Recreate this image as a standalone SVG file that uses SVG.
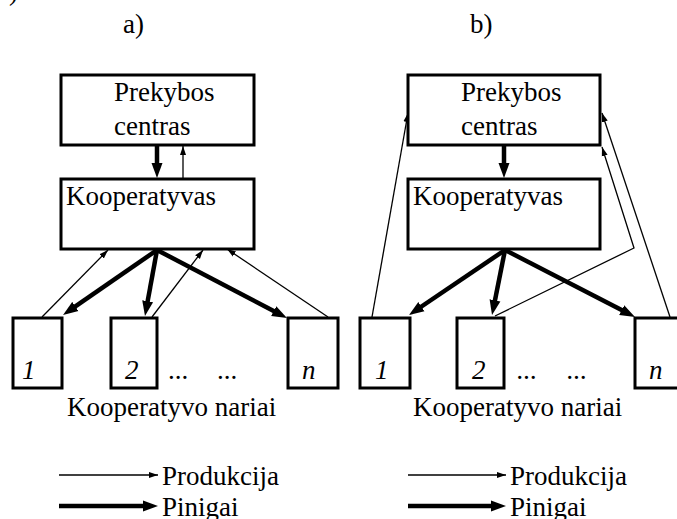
<svg xmlns="http://www.w3.org/2000/svg" width="677" height="519" viewBox="0 0 677 519">
<defs>
<marker id="thin" markerUnits="userSpaceOnUse" markerWidth="9" markerHeight="8" refX="9" refY="4" orient="auto"><path d="M0,1 L9,4 L0,7 z" fill="#000"/></marker>
<marker id="thick" markerUnits="userSpaceOnUse" markerWidth="15" markerHeight="12" refX="7" refY="6" orient="auto"><path d="M0,0.5 L15,6 L0,11.5 z" fill="#000"/></marker>
<style>
text{font-family:'Liberation Serif','Times New Roman','DejaVu Serif',serif;font-size:27px;fill:#000}
.i{font-style:italic}
.box{fill:#fff;stroke:#000;stroke-width:3}
.pl{fill:none;stroke:#000;stroke-width:1.3;marker-end:url(#thin)}
.mn{fill:none;stroke:#000;stroke-width:4.5;marker-end:url(#thick)}
</style>
</defs>
<rect width="677" height="519" fill="#fff"/>
<text x="9" y="0">)</text>
<text x="123" y="33">a)</text>
<text x="470" y="33">b)</text>

<g id="connectors">
<line class="mn" x1="157" y1="146" x2="157" y2="170"/>
<line class="pl" x1="183" y1="179" x2="183" y2="146"/>
<line class="mn" x1="157" y1="250" x2="69.6" y2="310.4"/>
<line class="mn" x1="157" y1="250" x2="146.4" y2="308.1"/>
<line class="mn" x1="157" y1="250" x2="279.9" y2="314.3"/>
<line class="pl" x1="42" y1="317" x2="108" y2="250"/>
<line class="pl" x1="152" y1="317" x2="203" y2="250"/>
<line class="pl" x1="328" y1="317" x2="227" y2="249"/>
<line class="mn" x1="504" y1="146" x2="504" y2="170"/>
<line class="mn" x1="505" y1="250" x2="415.6" y2="310.5"/>
<line class="mn" x1="505" y1="250" x2="493.6" y2="307.2"/>
<line class="mn" x1="505" y1="250" x2="627.9" y2="313.3"/>
<line class="pl" x1="372" y1="317" x2="408" y2="113"/>
<line class="pl" x1="670" y1="317" x2="602" y2="113"/>
<polyline class="pl" points="495,316 634,248 602,147"/>
<line class="pl" x1="59" y1="475" x2="158" y2="475"/>
<line class="mn" x1="59" y1="506" x2="150" y2="506"/>
<line class="pl" x1="408" y1="475" x2="506" y2="475"/>
<line class="mn" x1="408" y1="506" x2="498" y2="506"/>
</g>

<g id="a-prekybos"><rect class="box" x="61" y="75" width="193" height="70"/><text x="114" y="101">Prekybos</text><text x="114" y="135">centras</text></g>
<g id="a-kooperatyvas"><rect class="box" x="61" y="179" width="193" height="70"/><text x="66" y="205">Kooperatyvas</text></g>
<g id="a-m1"><rect class="box" x="13" y="318" width="49" height="70"/><text class="i" x="22" y="379">1</text></g>
<g id="a-m2"><rect class="box" x="111" y="318" width="46" height="70"/><text class="i" x="125" y="379">2</text></g>
<g id="a-dots"><text x="168" y="379">...</text><text x="217" y="379">...</text></g>
<g id="a-mn"><rect class="box" x="288" y="318" width="50" height="70"/><text class="i" x="302" y="379">n</text></g>
<g id="a-label"><text x="67" y="416">Kooperatyvo nariai</text></g>

<g id="b-prekybos"><rect class="box" x="408" y="75" width="192" height="70"/><text x="461" y="101">Prekybos</text><text x="461" y="135">centras</text></g>
<g id="b-kooperatyvas"><rect class="box" x="408" y="179" width="192" height="70"/><text x="413" y="205">Kooperatyvas</text></g>
<g id="b-m1"><rect class="box" x="360" y="318" width="50" height="70"/><text class="i" x="375" y="379">1</text></g>
<g id="b-m2"><rect class="box" x="457" y="318" width="47" height="70"/><text class="i" x="472" y="379">2</text></g>
<g id="b-dots"><text class="i" x="517" y="379">...</text><text class="i" x="567" y="379">...</text></g>
<g id="b-mn"><rect class="box" x="635" y="318" width="48" height="70"/><text class="i" x="649" y="379">n</text></g>
<g id="b-label"><text x="413" y="416">Kooperatyvo nariai</text></g>

<g id="legend">
<text x="162" y="485">Produkcija</text>
<text x="162" y="516">Pinigai</text>
<text x="510" y="485">Produkcija</text>
<text x="510" y="516">Pinigai</text>
</g>
</svg>
